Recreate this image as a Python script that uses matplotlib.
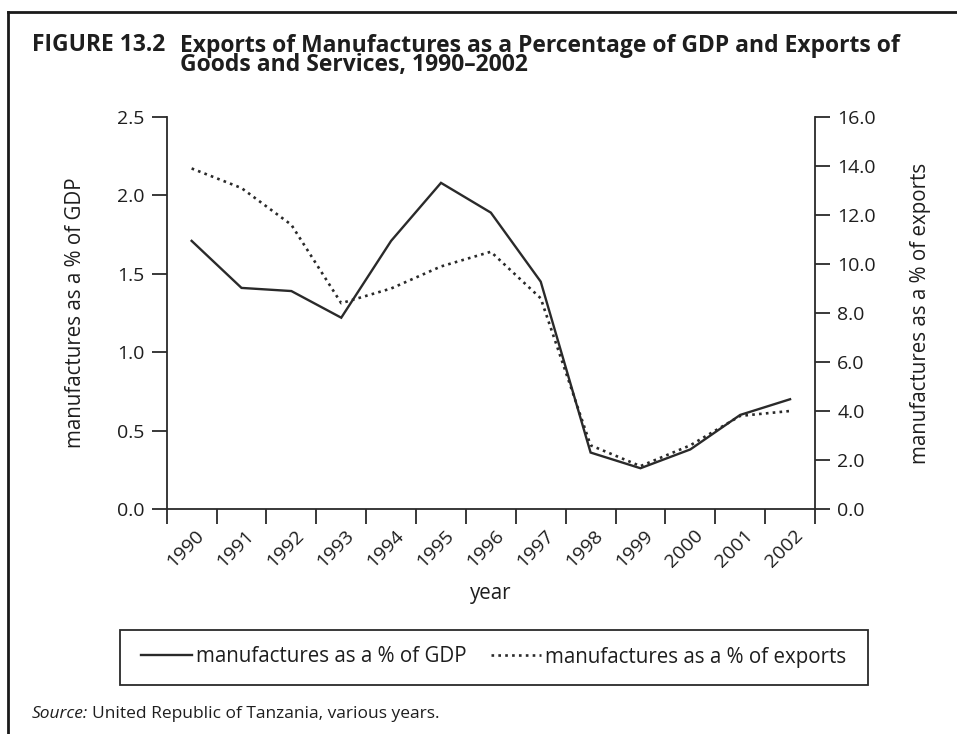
import matplotlib
matplotlib.use("Agg")
import matplotlib.pyplot as plt
import matplotlib.transforms as mtransforms
from matplotlib.lines import Line2D
from matplotlib.patches import Rectangle
from matplotlib.ticker import FormatStrFormatter, FixedLocator, NullFormatter

plt.rcParams['font.family'] = ['Open Sans', 'DejaVu Sans']

# Data
years = ['1990', '1991', '1992', '1993', '1994', '1995', '1996',
         '1997', '1998', '1999', '2000', '2001', '2002']
pct_gdp = [1.71, 1.41, 1.39, 1.22, 1.71, 2.08, 1.89, 1.45, 0.36, 0.26, 0.38, 0.60, 0.70]
pct_exports = [13.9, 13.1, 11.6, 8.4, 9.0, 9.9, 10.5, 8.6, 2.6, 1.75, 2.6, 3.8, 4.0]

left_ticks = [0.0, 0.5, 1.0, 1.5, 2.0, 2.5]
right_ticks = [0.0, 2.0, 4.0, 6.0, 8.0, 10.0, 12.0, 14.0, 16.0]

ink = '#2a2a2a'
txt = '#1e1e1e'
fs = 14
lfs = 14.8

fig = plt.figure(figsize=(9.57, 7.34), dpi=100)
W, H = 957, 734

def fx(px):
    return px / W

def fy(py):
    return 1 - py / H

ax = fig.add_axes([fx(166.7), fy(509), fx(815) - fx(166.7), fy(117) - fy(509)])
ax2 = ax.twinx()

x = list(range(len(years)))
l1, = ax.plot(x, pct_gdp, color=ink, lw=1.7, solid_joinstyle='miter')
l2, = ax2.plot(x, pct_exports, color=ink, lw=1.9, linestyle=(0, (1.0, 1.6)))

ax.set_xlim(-0.5, len(years) - 0.5)
ax.set_ylim(0, 2.5)
ax2.set_ylim(0, 16)
ax.set_yticks(left_ticks)
ax2.set_yticks(right_ticks)
ax.yaxis.set_major_formatter(FormatStrFormatter('%.1f'))
ax2.yaxis.set_major_formatter(FormatStrFormatter('%.1f'))

# category boundaries carry the tick marks, centres carry the labels
ax.xaxis.set_major_locator(FixedLocator([i - 0.5 for i in range(len(years) + 1)]))
ax.xaxis.set_major_formatter(NullFormatter())
ax.xaxis.set_minor_locator(FixedLocator(x))
ax.set_xticks(x, years, minor=True)

for a in (ax, ax2):
    a.spines['top'].set_visible(False)
    for s in a.spines.values():
        s.set_color(ink)
        s.set_linewidth(1.3)
ax.spines['right'].set_visible(False)
ax2.spines['left'].set_visible(False)
ax2.spines['bottom'].set_visible(False)

ax.tick_params(axis='both', which='major', direction='out', length=11, width=1.3,
               color=ink, labelsize=fs, labelcolor=txt, pad=5)
ax.tick_params(axis='x', which='minor', length=0, labelsize=fs, labelcolor=txt, pad=10)
ax2.tick_params(axis='y', direction='out', length=11, width=1.3, color=ink,
                labelsize=fs, labelcolor=txt, pad=5)

shift = mtransforms.ScaledTranslation(10 / 100, -10 / 100, fig.dpi_scale_trans)
for lab in ax.get_xticklabels(minor=True):
    lab.set_rotation(45)
    lab.set_ha('right')
    lab.set_va('center')
    lab.set_rotation_mode('anchor')
    lab.set_transform(lab.get_transform() + shift)

ax.set_ylabel('manufactures as a % of GDP', fontsize=lfs, color=txt, va='center')
ax.yaxis.set_label_coords(-0.1414, 0.5)
ax2.set_ylabel('manufactures as a % of exports', fontsize=lfs, color=txt, va='center')
ax2.yaxis.set_label_coords(1.162, 0.5)
ax.set_xlabel('year', fontsize=lfs, color=txt, va='center')
ax.xaxis.set_label_coords(0.5, -(594 - 509) / 392)

# legend in a ruled box below the chart
leg = fig.legend([l1, l2], ['manufactures as a % of GDP', 'manufactures as a % of exports'],
                 loc='center', bbox_to_anchor=(fx(494), fy(657)), ncol=2, frameon=False,
                 fontsize=lfs, handlelength=2.45, handletextpad=0.2, columnspacing=1.2,
                 labelcolor=txt)
fig.add_artist(Rectangle((fx(120), fy(685)), fx(868) - fx(120), fy(630) - fy(685),
                         transform=fig.transFigure, fill=False, edgecolor=ink, lw=1.3))

# outer frame: top rule and left rule
fig.add_artist(Line2D([fx(8), 1.0], [fy(12), fy(12)], transform=fig.transFigure,
                      color='#1a1a1a', lw=2.0))
fig.add_artist(Line2D([fx(8), fx(8)], [fy(12), 0.0], transform=fig.transFigure,
                      color='#1a1a1a', lw=2.0))

# heading
tfs = 16.5
fig.text(fx(32), fy(51), 'FIGURE 13.2', fontsize=tfs, fontweight='bold', color=txt,
         va='baseline', ha='left')
fig.text(fx(180), fy(34), 'Exports of Manufactures as a Percentage of GDP and Exports of\n'
         'Goods and Services, 1990\u20132002',
         fontsize=tfs, fontweight='bold', color=txt, va='top', ha='left', linespacing=0.75)

# source note
renderer = fig.canvas.get_renderer()
s1 = fig.text(fx(32), fy(714), 'Source:', fontsize=12.5, style='italic', color=txt,
              va='center', ha='left')
bb = s1.get_window_extent(renderer=renderer)
fig.text(bb.x1 / W + fx(4), fy(714), 'United Republic of Tanzania, various years.',
         fontsize=12.5, color=txt, va='center', ha='left')

fig.savefig('out.png', dpi=100)
